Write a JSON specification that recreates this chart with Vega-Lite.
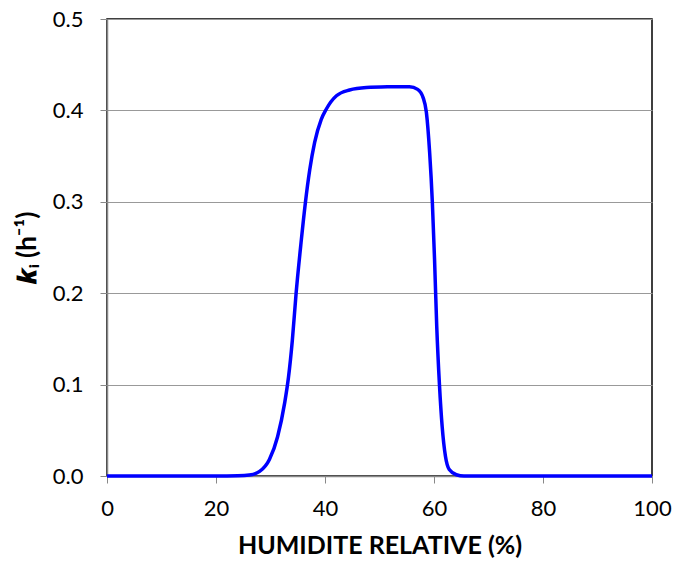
{
  "$schema": "https://vega.github.io/schema/vega-lite/v6.json",
  "autosize": "none",
  "padding": {"left": 107, "top": 19, "right": 22, "bottom": 89},
  "width": 545,
  "height": 457,
  "config": {
    "view": {"stroke": "#000000", "strokeWidth": 1.5},
    "font": "Lato"
  },
  "data": {
    "values": [
      {"x": 0, "y": 0},
      {"x": 20, "y": 0},
      {"x": 24, "y": 0.0003},
      {"x": 26.1, "y": 0.001},
      {"x": 28.0, "y": 0.005},
      {"x": 29.8, "y": 0.018},
      {"x": 31.3, "y": 0.043},
      {"x": 32.6, "y": 0.08},
      {"x": 33.3, "y": 0.108},
      {"x": 34.0, "y": 0.148},
      {"x": 34.7, "y": 0.2},
      {"x": 35.6, "y": 0.255},
      {"x": 36.4, "y": 0.299},
      {"x": 37.2, "y": 0.335},
      {"x": 38.1, "y": 0.365},
      {"x": 39.3, "y": 0.39},
      {"x": 40.2, "y": 0.401},
      {"x": 42.1, "y": 0.416},
      {"x": 44.5, "y": 0.4223},
      {"x": 47.6, "y": 0.425},
      {"x": 52, "y": 0.4258},
      {"x": 55.5, "y": 0.426},
      {"x": 57.0, "y": 0.423},
      {"x": 58.0, "y": 0.414},
      {"x": 58.6, "y": 0.398},
      {"x": 59.2, "y": 0.354},
      {"x": 59.7, "y": 0.299},
      {"x": 60.1, "y": 0.237},
      {"x": 60.5, "y": 0.164},
      {"x": 61.0, "y": 0.1},
      {"x": 61.5, "y": 0.054},
      {"x": 62.1, "y": 0.0215},
      {"x": 62.8, "y": 0.007},
      {"x": 64.1, "y": 0.0014},
      {"x": 65.5, "y": 0},
      {"x": 100, "y": 0}
    ]
  },
  "mark": {"type": "line", "color": "#0000FF", "strokeWidth": 3.5, "interpolate": "monotone"},
  "encoding": {
    "x": {
      "field": "x", "type": "quantitative",
      "scale": {"domain": [0, 100], "nice": false},
      "axis": {
        "values": [0, 20, 40, 60, 80, 100],
        "title": "HUMIDITE RELATIVE (%)",
        "titleFontSize": 25, "titleFontWeight": "bold", "titleColor": "#000",
        "titlePadding": 14,
        "labelFontSize": 22, "labelColor": "#000", "labelPadding": 15, "labelFlush": false,
        "tickSize": 7, "tickColor": "#888", "domainColor": "#888", "domainWidth": 1.5,
        "grid": false
      }
    },
    "y": {
      "field": "y", "type": "quantitative",
      "scale": {"domain": [0, 0.5], "nice": false},
      "axis": {
        "values": [0, 0.1, 0.2, 0.3, 0.4, 0.5],
        "format": ".1f",
        "title": "𝒌ᵢ (h⁻¹)",
        "titleFontSize": 26, "titleFontWeight": "bold", "titleColor": "#000",
        "titlePadding": 12,
        "labelFontSize": 22, "labelColor": "#000", "labelPadding": 17, "labelFlush": false,
        "tickSize": 7, "tickColor": "#888", "domainColor": "#888", "domainWidth": 1.5,
        "grid": true, "gridColor": "#999", "gridWidth": 1.2
      }
    }
  }
}
